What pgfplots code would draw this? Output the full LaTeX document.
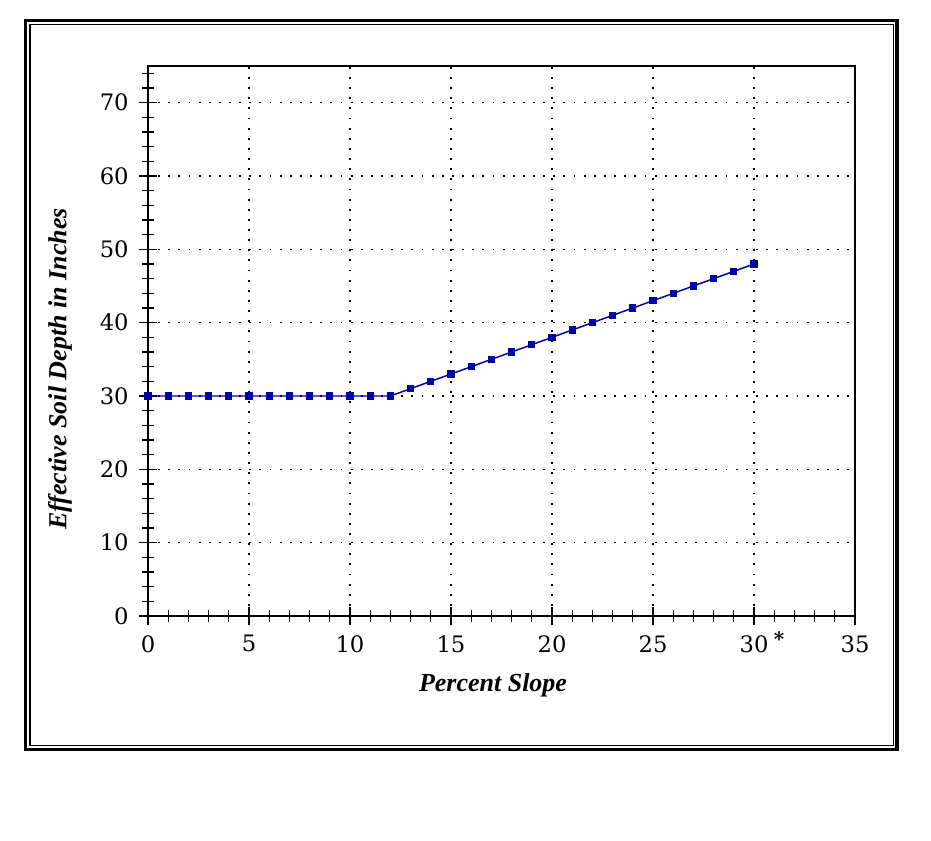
\documentclass[border=0pt]{standalone}
\usepackage{fontspec}
\setmainfont{Liberation Serif}
\newfontfamily\tickfont{DejaVu Serif}
\usepackage{pgfplots}
\pgfplotsset{compat=1.18}
\definecolor{lineblue}{RGB}{0,0,165}
\begin{document}
\begin{tikzpicture}
\begin{axis}[
  at={(0,0)}, anchor=south west,
  scale only axis, width=530.25pt, height=412.5pt,
  xmin=0, xmax=35, ymin=0, ymax=75,
  xtick={0,5,...,35}, ytick={0,10,...,70},
  minor xtick={0,1,...,35}, minor ytick={0,2,...,74},
  tick pos=left, tick align=center,
  major tick length=14pt, minor tick length=9pt,
  every tick/.style={black, line width=0.9pt},
  axis line style={line width=0.9pt},
  grid=major,
  major grid style={black, line width=1.1pt, dash pattern=on 1.4pt off 6.2pt},
  /pgf/number format/assume math mode=true,
  tick label style={font=\tickfont\fontsize{17}{19}\selectfont},
  xticklabel style={yshift=-4pt},
  yticklabel style={xshift=-4pt},
  xlabel={\textbf{\textit{Percent Slope}}},
  ylabel={\textbf{\textit{Effective Soil Depth in Inches}}},
  label style={font=\fontsize{19.5}{22}\selectfont},
  xlabel style={at={(axis description cs:0.488,-0.1255)}, anchor=center},
  ylabel style={at={(axis description cs:-0.1245,0.449)}, anchor=center},
]
\addplot[lineblue, line width=1.1pt, mark=square*, mark size=2.2pt, mark options={solid, fill=lineblue}]
  coordinates {
  (0,30) (1,30) (2,30) (3,30) (4,30) (5,30) (6,30) (7,30) (8,30) (9,30)
  (10,30) (11,30) (12,30) (13,31) (14,32) (15,33) (16,34) (17,35) (18,36)
  (19,37) (20,38) (21,39) (22,40) (23,41) (24,42) (25,43) (26,44) (27,45)
  (28,46) (29,47) (30,48)
  };
\draw[line width=2.2pt] (rel axis cs:0,0) -- (rel axis cs:0,1);
\draw[line width=2.2pt] (rel axis cs:0,0) -- (rel axis cs:1,0);
\end{axis}
\begin{scope}[x=0.75pt, y=-0.75pt, shift={(-148,-616)}]
\path (0,0) rectangle (931,840);
\draw[line width=2.6pt] (25.7,20.7) rectangle (897,749.3);
\draw[line width=0.9pt] (30,24.8) rectangle (893.3,745.5);
\node[font=\tickfont\fontsize{15}{16}\selectfont\bfseries, inner sep=0pt] at (779,639) {*};
\end{scope}
\end{tikzpicture}
\end{document}
